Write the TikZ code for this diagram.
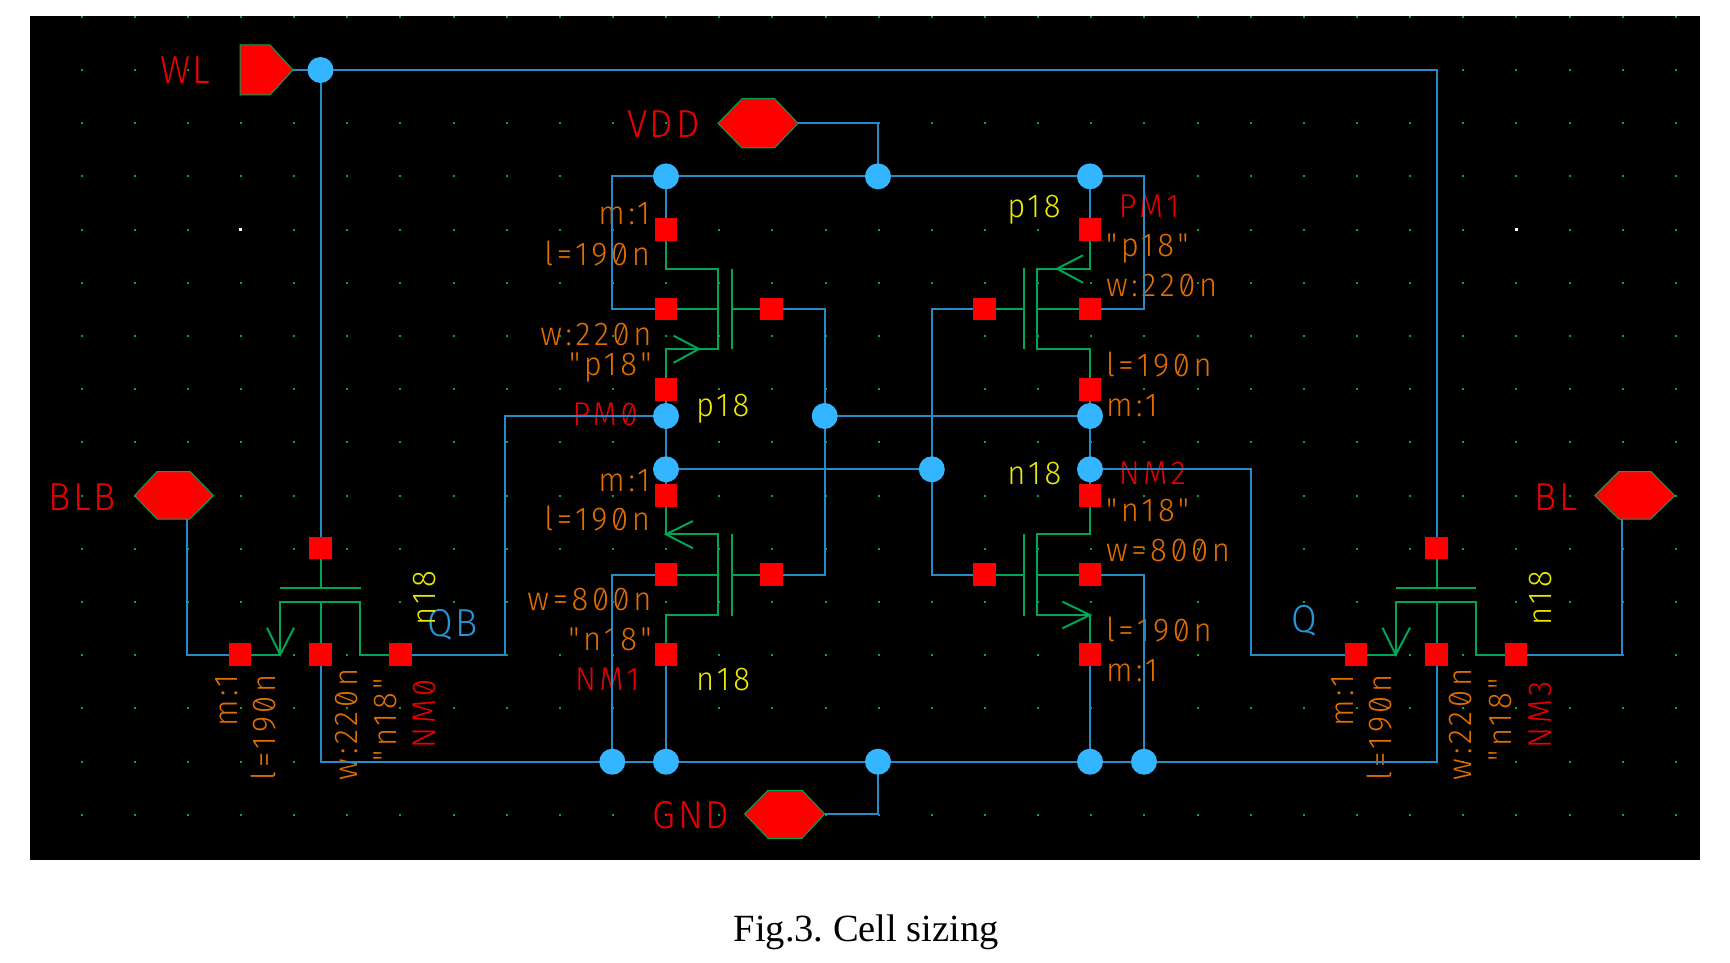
\documentclass[tikz,border=0pt]{standalone}
\usepackage{fontspec}
\setmainfont{Liberation Serif}
\newfontfamily\cadfont[RawFeature={+zero},FakeStretch=0.94,LetterSpace=11]{Fira Sans Light}
\newfontfamily\cadbig[RawFeature={+zero},FakeStretch=0.95,LetterSpace=7]{Fira Sans Light}
\usetikzlibrary{backgrounds}
\definecolor{wirec}{RGB}{38,140,195}
\definecolor{dotc}{RGB}{51,181,255}
\definecolor{devc}{RGB}{0,165,85}
\definecolor{gridc}{RGB}{0,170,60}
\definecolor{orangec}{RGB}{225,110,0}
\definecolor{yellowc}{RGB}{235,235,0}
\definecolor{redt}{RGB}{235,0,0}
\definecolor{cyant}{RGB}{40,150,215}
\pgfdeclarelayer{under}
\pgfsetlayers{under,main}
\tikzset{
  x=1pt,y=-1pt,
  sq/.style={fill=red,draw=none,minimum size=22.6pt,inner sep=0pt,outer sep=0pt},
  junc/.style={circle,fill=dotc,draw=none,minimum size=26pt,inner sep=0pt,outer sep=0pt},
  wire/.style={draw=wirec,line width=2pt,line join=miter},
  dev/.style={draw=devc,line width=2pt,line join=miter},
  pinshape/.style={fill=red,draw=devc,line width=1pt},
  lab/.style={inner sep=0pt,outer sep=0pt,font=\cadfont\fontsize{33}{33}\selectfont},
  biglab/.style={inner sep=0pt,outer sep=0pt,font=\cadbig\fontsize{39}{39}\selectfont},
  lw/.style={lab,anchor=base west},
  le/.style={lab,anchor=base east},
  lv/.style={lab,anchor=base west,rotate=90},
  bw/.style={biglab,anchor=base west},
}
\begin{document}
\begin{tikzpicture}
\useasboundingbox (0,0) rectangle (1730,963);
% pins
\fill[pinshape] (240,45) -- (270,45) -- (293,70) -- (270,95) -- (240,95) -- cycle;
\coordinate (wlp) at (293,70);
\fill[pinshape] (718,123.3) -- (742,98.7) -- (774.5,98.7) -- (798,123.3) -- (774.5,148) -- (742,148) -- cycle;
\coordinate (vddp) at (798,123.3);
\fill[pinshape] (744.7,814) -- (768,790.3) -- (802,790.3) -- (824.7,814) -- (802,838.3) -- (768,838.3) -- cycle;
\coordinate (gndp) at (824.7,814);
\fill[pinshape] (134.6,495.6) -- (157,471.5) -- (190,471.5) -- (213.5,495.6) -- (190,519) -- (157,519) -- cycle;
\coordinate (blbp) at (187,519);
\fill[pinshape] (1594.8,495.6) -- (1618.8,471.5) -- (1650.8,471.5) -- (1674.8,495.6) -- (1650.8,519) -- (1618.8,519) -- cycle;
\coordinate (blp) at (1622,519);
% junction dots
\node[junc] (dwl) at (320.5,70) {};
\node[junc] (dv1) at (666,176.4) {};
\node[junc] (dv2) at (878,176.4) {};
\node[junc] (dv3) at (1090,176.4) {};
\node[junc] (dq1) at (666,416) {};
\node[junc] (dq2) at (824.7,416) {};
\node[junc] (dq3) at (1090,416) {};
\node[junc] (dq4) at (666,469.3) {};
\node[junc] (dq5) at (931.8,469.3) {};
\node[junc] (dq6) at (1090,469.3) {};
\node[junc] (dg1) at (612.3,761.7) {};
\node[junc] (dg2) at (666,761.7) {};
\node[junc] (dg3) at (878,761.7) {};
\node[junc] (dg4) at (1090,761.7) {};
\node[junc] (dg5) at (1144,761.7) {};
% terminals
\node[sq] (pm0d) at (666,229.6) {};
\node[sq] (pm0b) at (666,309) {};
\node[sq] (pm0s) at (666,389.2) {};
\node[sq] (pm0g) at (771.2,309) {};
\node[sq] (nm1d) at (666,495.6) {};
\node[sq] (nm1b) at (666,574.7) {};
\node[sq] (nm1s) at (666,654.7) {};
\node[sq] (nm1g) at (771.2,574.7) {};
\node[sq] (pm1d) at (1090,229.6) {};
\node[sq] (pm1b) at (1090,309) {};
\node[sq] (pm1s) at (1090,389.2) {};
\node[sq] (pm1g) at (984.7,309) {};
\node[sq] (nm2d) at (1090,495.6) {};
\node[sq] (nm2b) at (1090,574.7) {};
\node[sq] (nm2s) at (1090,654.7) {};
\node[sq] (nm2g) at (984.7,574.7) {};
\node[sq] (nm0g) at (320.5,548) {};
\node[sq] (nm0b) at (320.5,654.7) {};
\node[sq] (nm0l) at (240,654.7) {};
\node[sq] (nm0r) at (400.5,654.7) {};
\node[sq] (nm3g) at (1436.5,548) {};
\node[sq] (nm3b) at (1436.5,654.7) {};
\node[sq] (nm3l) at (1356,654.7) {};
\node[sq] (nm3r) at (1516,654.7) {};
\begin{pgfonlayer}{under}
\fill[white] (0,0) rectangle (1730,963);
\fill[black] (30,16) rectangle (1700,860);
% grid
\foreach \k in {0,...,30}{
  \foreach \j in {0,...,14}{
    \fill[gridc] ({81.6+53.14*\k-1},{70+53.2*\j-1}) rectangle +(2,2);
  }
  \fill[gridc] ({81.6+53.14*\k-1},16) rectangle +(2,2);
}
\fill[white] (239,228) rectangle +(2.5,2.5);
\fill[white] (1515,228) rectangle +(2.5,2.5);
% texts
\node[bw,text=redt] (tWL) at (160,83.3) {WL};
\node[bw,text=redt] (tVDD) at (627,137.3) {VDD};
\node[bw,text=redt] (tBLB) at (48.5,510) {BLB};
\node[bw,text=redt] (tBL) at (1534.7,510) {BL};
\node[bw,text=redt] (tGND) at (652.6,828.3) {GND};
\node[bw,text=cyant] (tQB) at (427.5,636.7) {QB};
\node[bw,text=cyant] (tQ) at (1291.4,632) {Q};
\node[le,text=orangec] (a1) at (650,224) {m:1};
\node[le,text=orangec] (a2) at (650,265) {l=190n};
\node[le,text=orangec] (a3) at (651.5,345) {w:220n};
\node[le,text=orangec] (a4) at (651.5,375) {"p18"};
\node[lw,text=yellowc] (a5) at (696,416.7) {p18};
\node[lw,text=redt] (a6) at (572.6,425) {PM0};
\node[le,text=orangec] (b1) at (650,491.7) {m:1};
\node[le,text=orangec] (b2) at (650,530) {l=190n};
\node[le,text=orangec] (b3) at (651.5,610) {w=800n};
\node[le,text=orangec] (b4) at (651.5,650) {"n18"};
\node[lw,text=redt] (b5) at (575,690.7) {NM1};
\node[lw,text=yellowc] (b6) at (696,690) {n18};
\node[lw,text=yellowc] (c1) at (1007.3,217) {p18};
\node[lw,text=redt] (c2) at (1118.8,217) {PM1};
\node[lw,text=orangec] (c3) at (1106,256) {"p18"};
\node[lw,text=orangec] (c4) at (1106,296.7) {w:220n};
\node[lw,text=orangec] (c5) at (1106,376.7) {l=190n};
\node[lw,text=orangec] (c6) at (1106,416.7) {m:1};
\node[lw,text=yellowc] (d1) at (1007.3,484) {n18};
\node[lw,text=redt] (d2) at (1118.8,484) {NM2};
\node[lw,text=orangec] (d3) at (1106,521.7) {"n18"};
\node[lw,text=orangec] (d4) at (1106,561.7) {w=800n};
\node[lw,text=orangec] (d5) at (1106,641.7) {l=190n};
\node[lw,text=orangec] (d6) at (1106,681.7) {m:1};
\node[lv,text=orangec] (e1) at (237.2,726.7) {m:1};
\node[lv,text=orangec] (e2) at (275.8,780) {l=190n};
\node[lv,text=orangec] (e3) at (357.5,780) {w:220n};
\node[lv,text=orangec] (e4) at (396,761.7) {"n18"};
\node[lv,text=redt] (e5) at (435.8,748.3) {NM0};
\node[lv,text=yellowc] (e6) at (435.8,625) {n18};
\node[lv,text=orangec] (f1) at (1353,726.7) {m:1};
\node[lv,text=orangec] (f2) at (1391.8,780) {l=190n};
\node[lv,text=orangec] (f3) at (1471.8,780) {w:220n};
\node[lv,text=orangec] (f4) at (1511.5,761.7) {"n18"};
\node[lv,text=redt] (f5) at (1551.8,748.3) {NM3};
\node[lv,text=yellowc] (f6) at (1551.8,625) {n18};
% wires
\draw[wire] (wlp) -- (dwl.center);
\draw[wire] (dwl.center) -- (nm0g.center);
\draw[wire] (dwl.center) -| (nm3g.center);
\draw[wire] (vddp) -| (dv2.center);
\draw[wire] (dv1.center) -- (dv2.center) -- (dv3.center);
\draw[wire] (dv1.center) -- (612.3,176.4) |- (pm0b.center);
\draw[wire] (dv3.center) -- (1144,176.4) |- (pm1b.center);
\draw[wire] (dv1.center) -- (pm0d.center);
\draw[wire] (dv3.center) -- (pm1d.center);
\draw[wire] (pm0s.center) -- (dq1.center) -- (dq4.center);
\draw[wire] (pm1s.center) -- (dq3.center) -- (dq6.center) -- (nm2d.center);
\draw[wire] (dq4.center) -- (nm1d.center);
\draw[wire] (dq2.center) -- (dq3.center);
\draw[wire] (dq4.center) -- (dq5.center);
\draw[wire] (pm0g.center) -| (dq2.center);
\draw[wire] (dq2.center) |- (nm1g.center);
\draw[wire] (pm1g.center) -| (dq5.center);
\draw[wire] (dq5.center) |- (nm2g.center);
\draw[wire] (dq1.center) -| (505.3,654.7) -- (nm0r.center);
\draw[wire] (dq6.center) -| (1251,654.7) -- (nm3l.center);
\draw[wire] (blbp) |- (nm0l.center);
\draw[wire] (blp) |- (nm3r.center);
\draw[wire] (nm1b.center) -| (dg1.center);
\draw[wire] (nm2b.center) -| (dg5.center);
\draw[wire] (nm1s.center) -- (dg2.center);
\draw[wire] (nm2s.center) -- (dg4.center);
\draw[wire] (nm0b.center) |- (dg1.center) -- (dg2.center) -- (dg3.center) -- (dg4.center) -- (dg5.center) -| (nm3b.center);
\draw[wire] (gndp) -| (dg3.center);
% devices
\draw[dev] (pm0d.center) |- (718.3,268.7) -- (718.3,349) -| (pm0s.center);
\draw[dev] (pm0b.center) -- (718.3,309);
\draw[dev] (731.5,268.7) -- (731.5,349.3);
\draw[dev] (731.5,309) -- (pm0g.center);
\draw[dev] (673.6,335.7) -- (699,349) -- (673.6,362.7);
\draw[dev] (pm1d.center) |- (1037,268.7) -- (1037,349) -| (pm1s.center);
\draw[dev] (pm1b.center) -- (1037,309);
\draw[dev] (1023.9,268.3) -- (1023.9,349.3);
\draw[dev] (1023.9,309) -- (pm1g.center);
\draw[dev] (1083,255.3) -- (1057,268.7) -- (1083,282.7);
\draw[dev] (nm1d.center) |- (718.3,534.3) -- (718.3,615) -| (nm1s.center);
\draw[dev] (nm1b.center) -- (718.3,574.7);
\draw[dev] (731.5,534.3) -- (731.5,615.7);
\draw[dev] (731.5,574.7) -- (nm1g.center);
\draw[dev] (693,521) -- (666,534.3) -- (693,548.3);
\draw[dev] (nm2d.center) |- (1037,534.3) -- (1037,615) -| (nm2s.center);
\draw[dev] (nm2b.center) -- (1037,574.7);
\draw[dev] (1023.9,534.3) -- (1023.9,615.7);
\draw[dev] (1023.9,574.7) -- (nm2g.center);
\draw[dev] (1062.5,601.7) -- (1090,615) -- (1062.5,628.3);
\draw[dev] (nm0l.center) -- (280.2,654.7) -- (280.2,601.7) -- (360.2,601.7) -- (360.2,654.7) -- (nm0r.center);
\draw[dev] (nm0b.center) -- (320.5,601.7);
\draw[dev] (nm0g.center) -- (320.5,588);
\draw[dev] (279.7,588) -- (360.8,588);
\draw[dev] (267,627.7) -- (280.2,654.7) -- (294,627.7);
\draw[dev] (nm3l.center) -- (1395.7,654.7) -- (1395.7,601.7) -- (1476.2,601.7) -- (1476.2,654.7) -- (nm3r.center);
\draw[dev] (nm3b.center) -- (1436.5,601.7);
\draw[dev] (nm3g.center) -- (1436.5,588);
\draw[dev] (1395.7,588) -- (1476.2,588);
\draw[dev] (1382.5,627.7) -- (1395.7,654.7) -- (1410,627.7);
\end{pgfonlayer}
\node[inner sep=0pt,outer sep=0pt,anchor=base west,font=\frenchspacing\fontsize{38.5}{38.5}\selectfont] (cap) at (733.7,941.7) {Fig.3. Cell sizing};
\end{tikzpicture}
\end{document}
